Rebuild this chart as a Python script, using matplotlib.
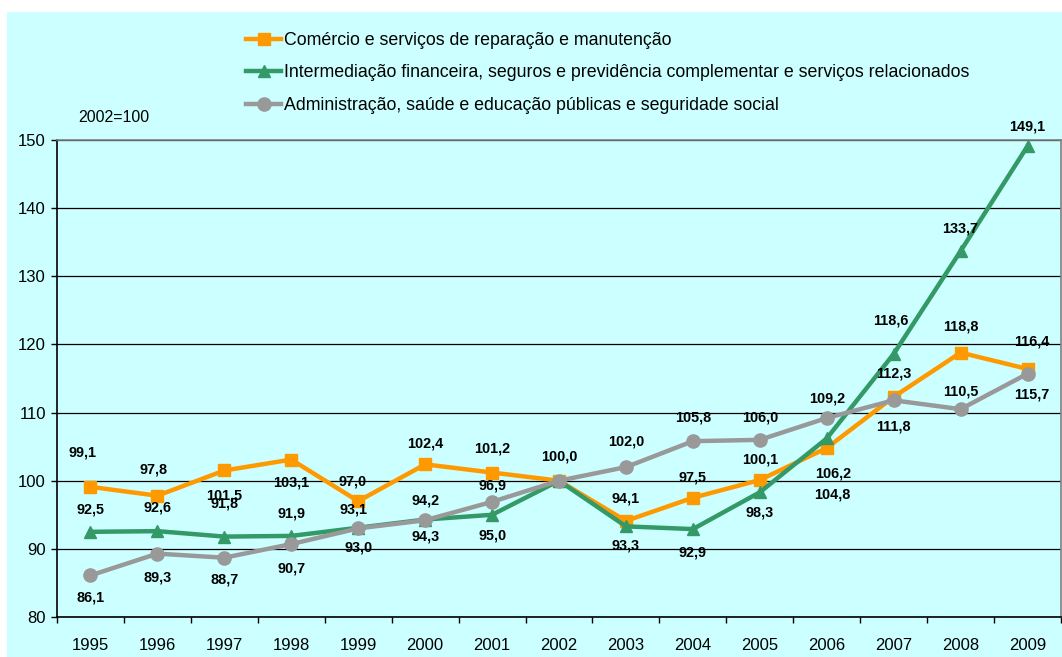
import numpy as np
import matplotlib
matplotlib.use('Agg')
import matplotlib.pyplot as plt
from matplotlib.patches import Rectangle

plt.rcParams['font.family'] = ['Liberation Sans', 'DejaVu Sans']

anos = ['1995', '1996', '1997', '1998', '1999', '2000', '2001', '2002',
        '2003', '2004', '2005', '2006', '2007', '2008', '2009']

comercio = [99.1, 97.8, 101.5, 103.1, 97.0, 102.4, 101.2, 100.0,
            94.1, 97.5, 100.1, 104.8, 112.3, 118.8, 116.4]
intermediacao = [92.5, 92.6, 91.8, 91.9, 93.1, 94.3, 95.0, 100.0,
                 93.3, 92.9, 98.3, 106.2, 118.6, 133.7, 149.1]
administracao = [86.1, 89.3, 88.7, 90.7, 93.0, 94.2, 96.9, 100.0,
                 102.0, 105.8, 106.0, 109.2, 111.8, 110.5, 115.7]

nomes = ['Comércio e serviços de reparação e manutenção',
         'Intermediação financeira, seguros e previdência complementar e serviços relacionados',
         'Administração, saúde e educação públicas e seguridade social']

# deslocamento dos rótulos (pixels; negativo = acima do marcador, None = sem rótulo)
desl_com = [(-8, -34), (-4, -26), (0, 25), (0, 23), (-6, -20), (0, -21), (0, -24), (0, -24),
            (0, -22), (0, -20), (0, -21), (6, 46), (0, -23), (0, -26), (4, -27)]
desl_int = [(0, -22), (0, -24), (0, -33), (0, -22), (-5, -18), (0, 17), (0, 21), None,
            (0, 19), (0, 23), (0, 20), (6, 35), (-3, -33), (0, -23), (0, -20)]
desl_adm = [(0, 22), (0, 24), (0, 22), (0, 24), (0, 19), (0, -20), (0, -16), None,
            (0, -26), (0, -24), (0, -22), (0, -20), (0, 26), (0, -18), (4, 21)]

cor_com = '#FF9900'
cor_int = '#339966'
cor_adm = '#999999'
fundo = '#CCFFFF'

W, H = 1062, 657
fig = plt.figure(figsize=(W / 100, H / 100), dpi=100)
fig.patch.set_facecolor('white')
fig.patches.append(Rectangle((7 / W, 0), 1 - 7 / W, 1 - 12 / H, transform=fig.transFigure,
                             facecolor=fundo, edgecolor='none', zorder=-5))

ax = fig.add_axes([57 / W, 1 - 617 / H, 1004 / W, 477 / H])
ax.set_facecolor(fundo)

x = np.arange(len(anos))
series = [(comercio, cor_com, 's', 9, desl_com),
          (intermediacao, cor_int, '^', 9, desl_int),
          (administracao, cor_adm, 'o', 9.5, desl_adm)]

px2pt = 72 / 100
for i, (vals, cor, mk, ms, desl) in enumerate(series):
    ax.plot(x, vals, color=cor, lw=3.2, marker=mk, ms=ms, mec=cor, mfc=cor,
            label=nomes[i], zorder=3 + i, clip_on=False)
    for xi, v, d in zip(x, vals, desl):
        if d is None:
            continue
        ax.annotate(f'{v:.1f}'.replace('.', ','), (xi, v),
                    xytext=(d[0] * px2pt, -d[1] * px2pt), textcoords='offset points',
                    ha='center', va='center', fontsize=10.4, fontweight='bold',
                    color='black', zorder=10)

ax.set_xlim(-0.5, len(anos) - 0.5)
ax.set_ylim(80, 150)
ax.set_yticks(np.arange(80, 151, 10))
ax.set_xticks(x)
ax.set_xticklabels(anos)
ax.set_xticks(np.arange(-0.5, len(anos), 1), minor=True)
ax.tick_params(axis='x', which='major', length=0, pad=15, labelsize=12)
ax.tick_params(axis='x', which='minor', length=4, width=1, color='black', direction='out')
ax.tick_params(axis='y', length=4, width=1, pad=4, labelsize=12, direction='out')

ax.grid(axis='y', color='black', lw=0.9, zorder=1)
ax.set_axisbelow(True)
for lado in ['left', 'bottom']:
    ax.spines[lado].set_color('black')
    ax.spines[lado].set_linewidth(1.2)
for lado in ['top', 'right']:
    ax.spines[lado].set_color('#808080')
    ax.spines[lado].set_linewidth(1.2)

fig.text(78 / W, 1 - 117 / H, '2002=100', fontsize=11.5, va='center', ha='left')

fig.legend(loc='upper left', bbox_to_anchor=(246 / W, 1 - 32 / H), frameon=False,
           fontsize=12.8, handlelength=1.97, handletextpad=0.17, labelspacing=0.87,
           borderpad=0, borderaxespad=0)

fig.savefig('out.png', dpi=100, facecolor=fig.get_facecolor())
